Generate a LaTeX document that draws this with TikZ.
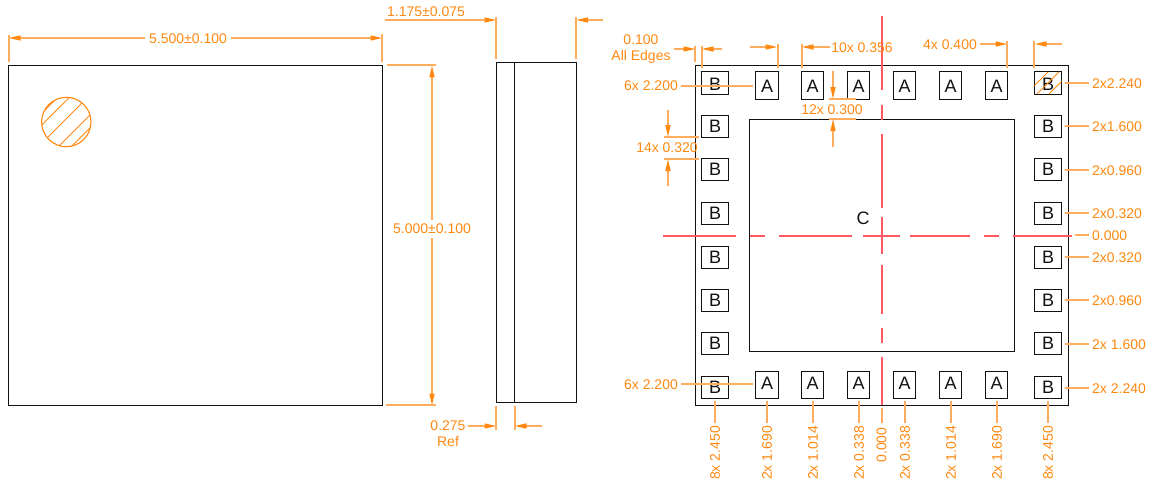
\documentclass[tikz,border=0pt]{standalone}
\usepackage{fontspec}
\setmainfont{Liberation Sans}
\usetikzlibrary{arrows.meta}
\definecolor{dimorange}{RGB}{255,136,16}
\definecolor{dimpale}{RGB}{255,172,92}
\definecolor{axisred}{RGB}{255,90,100}
\definecolor{inkc}{HTML}{111111}
\tikzset{
  x=1pt,y=-1pt,
  outline/.style={draw=inkc,line width=1pt},
  dimline/.style={draw=dimpale,line width=1.4pt},
  dimarrow/.style={dimline,-{Triangle[length=12pt,width=5pt,color=dimorange,fill=dimorange]}},
  dimtext/.style={text=dimorange,font=\fontsize{14}{16}\selectfont,inner sep=0pt},
  leftdim/.style={dimtext,anchor=west},
  vertdim/.style={dimtext,rotate=90},
  axisline/.style={draw=axisred,line width=1.4pt},
  hatch/.style={draw=dimorange,line width=0.9pt},
  padtext/.style={text=inkc,font=\fontsize{18}{20}\selectfont,inner sep=0pt},
  apad/.style={outline,fill=white,minimum width=22.4pt,minimum height=27pt,inner sep=0pt},
  bpad/.style={outline,fill=white,minimum width=27.4pt,minimum height=22pt,inner sep=0pt},
}
\begin{document}
\begin{tikzpicture}
\useasboundingbox (0,0) rectangle (1151,487);
% ---------- top view
\draw[outline] (8.5,65.5) rectangle (382.5,405.5);
\draw[draw=dimorange,line width=1.1pt] (66.3,122) circle (24.7);
\begin{scope}
  \clip (66.3,122) circle (24.7);
  \foreach \s in {155,166.7,185,205,218} \draw[hatch] (\s-200,200) -- (\s-30,30);
\end{scope}
\node[dimtext] (w) at (188,38.5) {5.500±0.100};
\draw[dimarrow] (145,38) -- (8.5,38);
\draw[dimarrow] (231,38) -- (382.5,38);
\draw[dimline] (9,35) -- (9,62) (382,34) -- (382,62);
\node[dimtext] (h) at (432,229) {5.000±0.100};
\draw[dimarrow] (432,220) -- (432,65.5);
\draw[dimarrow] (432,238) -- (432,405.5);
\draw[dimline] (387,65) -- (436,65) (385.5,405) -- (436,405);
% ---------- side view
\draw[outline] (496.5,62.5) rectangle (576.5,402.5);
\draw[outline] (514.5,62.5) -- (514.5,402.5);
\node[dimtext] (t) at (426,12) {1.175±0.075};
\draw[dimarrow] (384.5,20) -- (496.5,20);
\draw[dimarrow] (603,20) -- (576,20);
\draw[dimline] (496,17) -- (496,59) (576,17) -- (576,59);
\node[dimtext] (r1) at (448,425.6) {0.275};
\node[dimtext] (r2) at (448,441) {Ref};
\draw[dimarrow] (468,426) -- (496.5,426);
\draw[dimarrow] (542,426) -- (514.5,426);
\draw[dimline] (496,405.5) -- (496,429.5) (515,405.5) -- (515,429.5);
% ---------- bottom view
\draw[outline] (695.5,65.5) rectangle (1068.5,405.5);
\draw[outline] (749.5,119.5) rectangle (1014.5,351.5);
% pads
\foreach \x/\n in {767/1,812.7/2,858.5/3,904.5/4,950.5/5,996.5/6}{
  \node[apad,label={[padtext,yshift=-1.2pt]center:A}] (at\n) at (\x,85.5) {};
  \node[apad,label={[padtext,yshift=1.5pt]center:A}] (ab\n) at (\x,384.5) {};
}
\node[bpad,label={[padtext,yshift=-1pt]center:B}] (bl1) at (715,83) {};
\node[bpad,label={[padtext,yshift=-1pt]center:B}] (br1) at (1048,83) {};
\foreach \y/\n in {126.3/2,169.7/3,213.3/4,257/5,300.3/6,343.7/7,387.3/8}{
  \node[bpad,label={[padtext]center:B}] (bl\n) at (715,\y) {};
  \node[bpad,label={[padtext]center:B}] (br\n) at (1048,\y) {};
}
\begin{scope}
  \clip (1034.3,72) rectangle (1061.7,94);
  \foreach \s in {1120,1131,1143} \draw[hatch] (\s-94,94) -- (\s-72,72);
\end{scope}
\node[padtext] (c) at (863,218) {C};
% centre lines
\foreach \a/\b in {16/90,104.7/119.5,133.7/208.3,216.7/253.5,265/314,328/343,356.7/405}
  \draw[axisline] (882,\a) -- (882,\b);
\foreach \a/\b in {663/736.3,750/765,779/852,863/900,910/970,984/999,1012.5/1072}
  \draw[axisline] (\a,236) -- (\b,236);
% top dimensions
\node[dimtext] (d1a) at (641,40) {0.100};
\node[dimtext] (d1b) at (641,57) {All Edges};
\draw[dimarrow] (674,49) -- (695.5,49);
\draw[dimarrow] (722,49) -- (701.5,49);
\draw[dimline] (695,46) -- (695,62) (702,46) -- (702,68.5);
\draw[dimarrow] (750,47) -- (777.5,47);
\draw[dimarrow] (830,47) -- (801.5,47);
\draw[dimline] (778,43.7) -- (778,68.5) (802,43.7) -- (802,68.5);
\node[dimtext] (d2) at (862,47.5) {10x 0.356};
\node[dimtext] (d3) at (950,45) {4x 0.400};
\draw[dimarrow] (980,44) -- (1007.5,44);
\draw[dimarrow] (1062,44) -- (1034.5,44);
\draw[dimline] (1007,41) -- (1007,68.5) (1034,41) -- (1034,68.5);
\node[dimtext] (d4) at (651,86) {6x 2.200};
\draw[dimline] (681.3,86) -- (752.7,86);
\node[dimtext] (d5) at (651,384.8) {6x 2.200};
\draw[dimline] (681.3,384) -- (752.7,384);
\node[dimtext] (d6) at (667,148) {14x 0.320};
\draw[dimline] (664,137) -- (699,137) (664,159) -- (699,159);
\draw[dimarrow] (668,110) -- (668,137);
\draw[dimarrow] (668,186) -- (668,159);
\node[dimtext] (d7) at (832,110) {12x 0.300};
\draw[dimline] (829,99) -- (855.7,99) (829,119) -- (855.7,119);
\draw[dimarrow] (833,71.3) -- (833,99);
\draw[dimarrow] (833,147) -- (833,119);
% right labels
\foreach \y/\t/\n in {83/2x2.240/1,126/2x1.600/2,170/2x0.960/3,213/2x0.320/4,257/2x0.320/5,300/2x0.960/6,344/2x 1.600/7,388/2x 2.240/8}{
  \node[leftdim] (rl\n) at (1092,\y+0.5) {\t};
  \draw[dimline] (1064.7,\y) -- (1089,\y);
}
\node[leftdim] (rl0) at (1092,235.5) {0.000};
\draw[dimline] (1075,235) -- (1089,235);
% bottom labels
\foreach \x/\t/\n in {715/8x 2.450/1,767/2x 1.690/2,813/2x 1.014/3,859/2x 0.338/4,905/2x 0.338/5,951/2x 1.014/6,997/2x 1.690/7,1048/8x 2.450/8}{
  \node[vertdim] (bt\n) at (\x,453) {\t};
  \draw[dimline] (\x,401) -- (\x,422.7);
}
\node[vertdim] (bt0) at (881.5,445) {0.000};
\draw[dimline] (882,408) -- (882,423);
\end{tikzpicture}
\end{document}
